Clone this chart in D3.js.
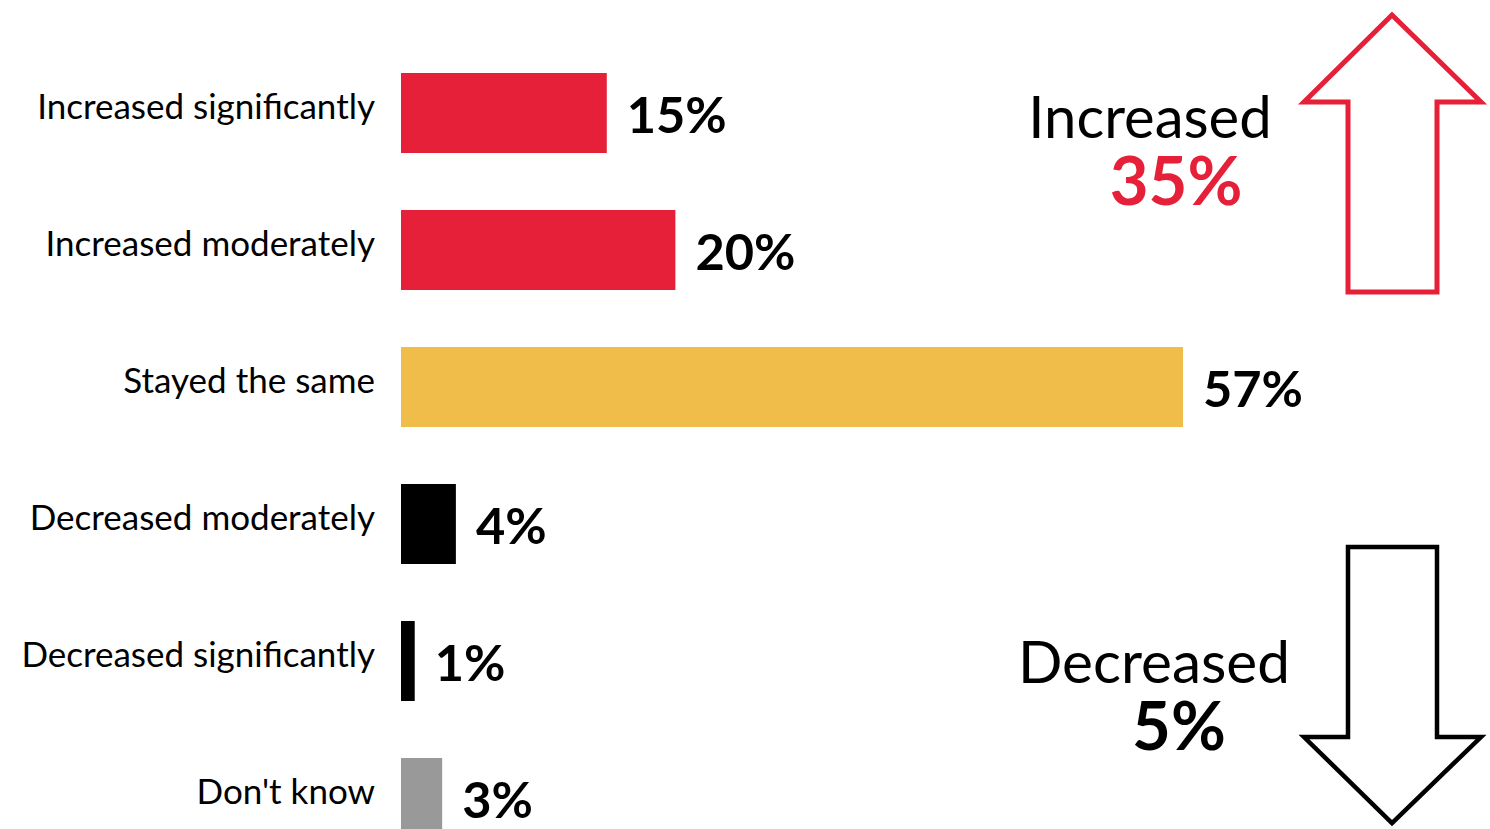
<!DOCTYPE html>
<html><head><meta charset="utf-8">
<script src="https://cdn.jsdelivr.net/npm/d3@7"></script>
<style>html,body{margin:0;padding:0;background:#fff;} svg{display:block;font-family:Lato,sans-serif;}</style>
</head><body>
<svg id="chart" width="1490" height="829"></svg>
<script>
const categories = ["Increased significantly","Increased moderately","Stayed the same","Decreased moderately","Decreased significantly","Don't know"];
const values = [15, 20, 57, 4, 1, 3];
const barColors = ["#e52038","#e52038","#f0bd4a","#000000","#000000","#999999"];
const summaryLabels = ["Increased","Decreased"];
const summaryValues = [35, 5];

const svg = d3.select("#chart");
const x = d3.scaleLinear().domain([0, 57]).range([401, 1183]);
const y = d3.scaleBand().domain(categories).range([16, 16 + 137 * (6 + 0.416)]).padding(0.416);

const g = svg.append("g");
g.selectAll("rect.bar").data(categories).join("rect")
  .attr("class","bar")
  .attr("x", x(0))
  .attr("y", d => y(d))
  .attr("width", (d,i) => x(values[i]) - x(0))
  .attr("height", y.bandwidth())
  .attr("fill", (d,i) => barColors[i]);

g.selectAll("text.cat").data(categories).join("text")
  .attr("class","cat")
  .attr("x", 375)
  .attr("y", d => y(d) + y.bandwidth()/2 + 6)
  .attr("text-anchor","end")
  .attr("font-size", 35)
  .attr("fill","#000")
  .text(d => d);

g.selectAll("text.val").data(categories).join("text")
  .attr("class","val")
  .attr("x", (d,i) => x(values[i]) + 20)
  .attr("y", d => y(d) + y.bandwidth()/2 + 20)
  .attr("font-size", 50.5)
  .attr("font-weight", 700)
  .attr("fill","#000")
  .text((d,i) => values[i] + "%");

// summary texts
svg.append("text").attr("x", 1150).attr("y", 138).attr("text-anchor","middle")
  .attr("font-size", 58).attr("fill","#000").text(summaryLabels[0]);
svg.append("text").attr("x", 1176).attr("y", 205).attr("text-anchor","middle")
  .attr("font-size", 67).attr("font-weight",700).attr("fill","#e52038").text(summaryValues[0] + "%");
svg.append("text").attr("x", 1154).attr("y", 683).attr("text-anchor","middle")
  .attr("font-size", 58.5).attr("fill","#000").text(summaryLabels[1]);
svg.append("text").attr("x", 1179).attr("y", 750).attr("text-anchor","middle")
  .attr("font-size", 67).attr("font-weight",700).attr("fill","#000").text(summaryValues[1] + "%");

// arrows
const up = [[1392,15],[1481,102],[1437,102],[1437,292],[1348,292],[1348,102],[1304,102]];
const down = [[1348,547],[1437,547],[1437,737],[1481,737],[1392,823],[1304,737],[1348,737]];
const line = d3.line().curve(d3.curveLinearClosed);
svg.append("path").attr("d", line(up)).attr("fill","none").attr("stroke","#e52038").attr("stroke-width",5).attr("stroke-linejoin","miter");
svg.append("path").attr("d", line(down)).attr("fill","none").attr("stroke","#000").attr("stroke-width",4.5).attr("stroke-linejoin","miter");
</script>
</body></html>
